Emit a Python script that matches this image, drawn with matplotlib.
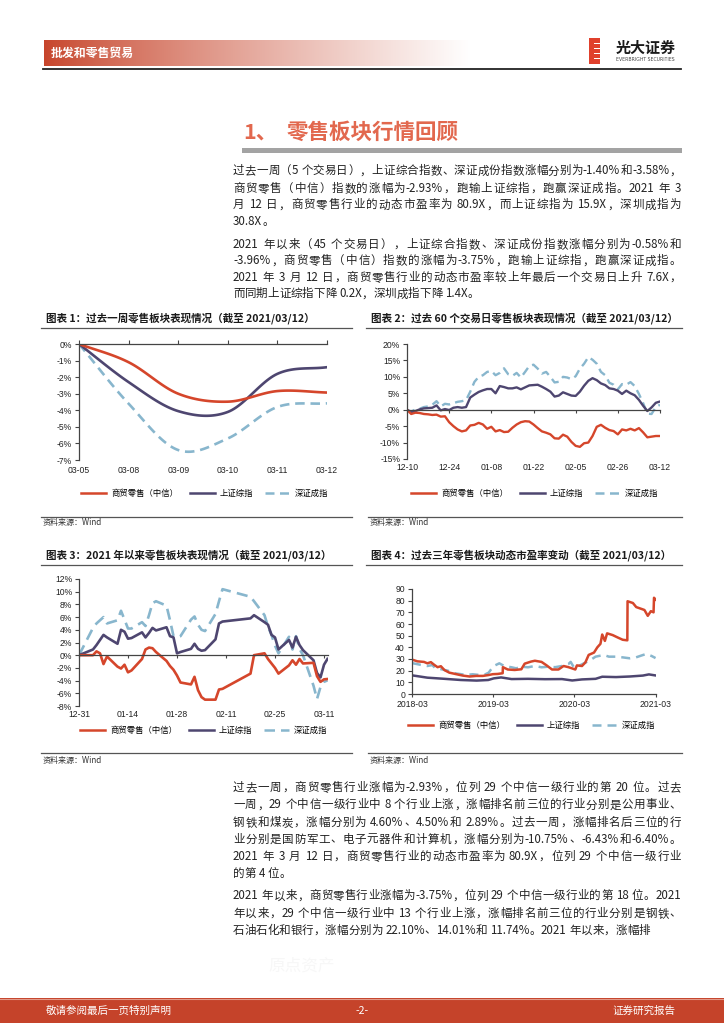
import numpy as np
import pandas as pd
import matplotlib
matplotlib.use('Agg')
import matplotlib.pyplot as plt
from matplotlib.lines import Line2D
from matplotlib.patches import Rectangle

# ---------------- DATA ----------------
c1_labels = ['03-05', '03-08', '03-09', '03-10', '03-11', '03-12']
c1_retail = [0.0, -1.1, -3.0, -3.48, -2.84, -2.93]
c1_sh = [0.0, -2.3, -4.05, -4.1, -1.8, -1.40]
c1_sz = [0.0, -3.6, -6.4, -5.7, -3.8, -3.58]

c2_ticklabels = ['12-10', '12-24', '01-08', '01-22', '02-05', '02-26', '03-12']
c2_retail = [0.0, -1.3, -0.9, -1.0, -1.3, -1.4, -1.6, -1.5, -2.1, -2.0,
             -3.8, -5.0, -6.0, -6.6, -6.3, -4.8, -4.6, -4.0, -4.5, -5.8,
             -5.2, -6.6, -6.2, -6.8, -6.7, -5.5, -4.5, -3.8, -3.5, -3.6,
             -4.5, -5.6, -6.6, -7.0, -7.5, -8.7, -8.8, -7.6, -8.2, -9.8,
             -11.0, -11.3, -10.2, -10.0, -8.0, -5.2, -4.6, -5.5, -6.2, -6.5,
             -7.5, -6.0, -6.3, -5.8, -6.3, -5.6, -6.9, -8.4, -8.2, -8.0, -8.0]
c2_sh = [0.0, -0.8, -0.4, 0.1, 0.4, 0.5, 0.6, 1.3, -0.2, 0.2,
         -0.1, 0.6, 0.8, 0.6, 0.8, 3.7, 4.6, 5.4, 5.9, 6.3,
         6.3, 5.0, 7.2, 6.9, 6.5, 6.5, 6.8, 6.2, 6.8, 7.4,
         7.5, 7.6, 7.0, 6.3, 5.5, 4.0, 4.3, 5.3, 4.8, 4.3,
         4.2, 5.5, 7.3, 8.8, 9.6, 9.0, 8.0, 7.5, 6.5, 6.3,
         5.8, 4.8, 5.8, 5.0, 4.4, 3.0, 1.2, -0.4, 0.7, 2.1, 2.5]
c2_sz = [0.0, -0.6, 0.1, 0.3, 0.8, 1.0, 1.5, 2.6, 1.0, 1.8,
         1.6, 2.0, 2.4, 2.6, 2.9, 5.5, 8.5, 10.0, 10.5, 11.5,
         11.8, 10.5, 11.2, 12.6, 10.8, 10.3, 11.2, 9.8, 11.5, 13.3,
         13.7, 12.5, 11.0, 11.5, 10.0, 8.3, 8.5, 10.0, 9.8, 9.3,
         10.2, 12.5, 14.0, 16.0, 15.2, 14.0, 11.5, 10.5, 8.2, 7.6,
         6.2, 7.8, 7.6, 8.4, 7.2, 4.8, 2.0, -1.2, -1.3, 0.8, 1.5]

c3_dates = ['2020-12-31', '2021-01-04', '2021-01-05', '2021-01-06', '2021-01-07', '2021-01-08',
            '2021-01-11', '2021-01-12', '2021-01-13', '2021-01-14', '2021-01-15',
            '2021-01-18', '2021-01-19', '2021-01-20', '2021-01-21', '2021-01-22',
            '2021-01-25', '2021-01-26', '2021-01-27', '2021-01-28', '2021-01-29',
            '2021-02-01', '2021-02-02', '2021-02-03', '2021-02-04', '2021-02-05',
            '2021-02-08', '2021-02-09', '2021-02-10', '2021-02-18', '2021-02-19',
            '2021-02-22', '2021-02-23', '2021-02-24', '2021-02-25', '2021-02-26',
            '2021-03-01', '2021-03-02', '2021-03-03', '2021-03-04', '2021-03-05',
            '2021-03-08', '2021-03-09', '2021-03-10', '2021-03-11', '2021-03-12']
c3_retail = [0.0, 0.0, 0.6, 0.3, -1.4, -0.2, -1.8, -2.1, -1.5, -2.7, -2.4,
             -0.6, 0.9, 1.2, 1.1, 0.5, -0.9, -1.7, -2.3, -3.2, -4.3,
             -4.6, -3.4, -5.5, -6.6, -7.0, -7.0, -5.4, -5.3, -2.9, 0.0,
             0.3, -0.6, -1.3, -2.0, -2.9, -1.6, -0.8, -1.5, -0.6, -1.3,
             -1.2, -3.3, -4.2, -3.8, -3.75]
c3_sh = [0.0, 0.9, 1.6, 2.4, 3.2, 2.8, 1.8, 4.0, 3.7, 2.6, 2.7,
         3.6, 2.8, 3.5, 4.3, 3.9, 4.4, 3.0, 2.8, 0.3, 0.5,
         1.0, 1.8, 1.0, 0.7, 0.8, 2.5, 5.0, 5.3, 5.8, 6.3,
         5.2, 4.8, 3.2, 2.8, 0.9, 2.4, 1.2, 2.9, 1.6, 0.8,
         -0.8, -2.8, -3.5, -1.5, -0.58]
c3_sz = [0.0, 4.3, 5.0, 5.5, 6.0, 5.0, 5.5, 7.0, 5.6, 4.2, 4.2,
         5.2, 4.6, 6.3, 8.2, 8.5, 7.8, 5.5, 3.0, 2.8, 3.0,
         5.6, 6.1, 4.8, 4.0, 3.8, 6.5, 8.5, 10.4, 9.2, 8.5,
         6.3, 4.5, 3.2, 1.5, 0.3, 2.9, 0.9, 3.0, 1.0, 0.0,
         -4.8, -6.9, -5.0, -4.2, -3.96]
c3_ticks = ['2020-12-31', '2021-01-14', '2021-01-28', '2021-02-11', '2021-02-25', '2021-03-11']
c3_ticklabels = ['12-31', '01-14', '01-28', '02-11', '02-25', '03-11']

c4_retail_dates = ['2018-03-12', '2018-04-05', '2018-05-05', '2018-05-20', '2018-06-05', '2018-06-20',
                   '2018-07-05', '2018-07-20', '2018-08-05', '2018-08-27', '2018-09-27', '2018-10-26',
                   '2018-11-26', '2018-12-26', '2019-01-25', '2019-02-18', '2019-03-11', '2019-04-02',
                   '2019-04-24', '2019-04-25', '2019-05-17', '2019-06-17', '2019-07-17', '2019-08-01',
                   '2019-08-30', '2019-09-16', '2019-10-16', '2019-11-08', '2019-12-02', '2019-12-31',
                   '2020-01-23', '2020-02-14', '2020-03-16', '2020-03-23', '2020-04-15', '2020-04-30',
                   '2020-05-15', '2020-06-08', '2020-06-23', '2020-07-07', '2020-07-15', '2020-07-27',
                   '2020-08-06', '2020-08-31', '2020-09-22', '2020-10-15', '2020-11-05', '2020-11-06',
                   '2020-11-30', '2020-12-15', '2021-01-14', '2021-01-21', '2021-02-05', '2021-02-19',
                   '2021-03-03', '2021-03-05', '2021-03-12']
c4_retail = [29.5, 28.0, 27.5, 26.3, 27.3, 25.0, 23.0, 23.8, 20.5, 18.3, 17.0, 15.8, 15.0, 15.5,
             15.5, 16.2, 17.0, 17.2, 17.8, 23.0, 21.0, 20.6, 21.2, 26.0, 27.8, 28.5, 27.5, 24.5,
             21.0, 21.0, 24.0, 23.0, 21.0, 24.5, 24.0, 27.0, 33.5, 35.5, 40.0, 43.0, 51.0, 45.5,
             52.0, 50.5, 48.5, 46.5, 46.0, 79.5, 78.0, 74.5, 72.5, 72.0, 67.0, 71.0, 70.0, 82.5, 80.9]
c4_sz_dates = ['2018-03-12', '2018-04-20', '2018-05-20', '2018-06-11', '2018-06-26', '2018-07-20',
               '2018-08-20', '2018-09-18', '2018-10-18', '2018-11-09', '2018-12-10', '2019-01-10',
               '2019-02-01', '2019-02-20', '2019-03-01', '2019-03-15', '2019-04-09', '2019-05-01',
               '2019-06-03', '2019-06-24', '2019-07-17', '2019-08-16', '2019-09-16', '2019-10-16',
               '2019-11-15', '2019-12-16', '2020-01-16', '2020-02-14', '2020-02-24', '2020-03-09',
               '2020-03-31', '2020-04-30', '2020-05-22', '2020-06-15', '2020-06-30', '2020-07-23',
               '2020-08-14', '2020-09-15', '2020-10-15', '2020-11-16', '2020-12-14', '2021-01-14',
               '2021-01-29', '2021-02-22', '2021-03-12']
c4_sz = [26.5, 25.0, 24.0, 24.8, 22.0, 21.3, 20.0, 17.8, 17.0, 16.3, 16.9, 16.3, 16.5, 18.3, 20.6,
         24.0, 26.3, 24.0, 22.9, 22.0, 23.4, 22.9, 24.0, 22.9, 23.4, 23.0, 24.0, 25.7, 27.5, 23.0,
         24.0, 26.9, 29.0, 32.0, 32.6, 33.4, 32.0, 32.0, 31.4, 30.6, 31.4, 33.4, 34.3, 32.6, 30.8]
c4_sh_dates = ['2018-03-12', '2018-05-20', '2018-08-06', '2018-10-18', '2018-12-28', '2019-02-18',
               '2019-03-15', '2019-04-17', '2019-06-03', '2019-08-16', '2019-10-31', '2020-01-16',
               '2020-03-02', '2020-04-15', '2020-06-15', '2020-07-15', '2020-09-15', '2020-11-16',
               '2021-01-14', '2021-02-10', '2021-03-12']
c4_sh = [16.0, 14.0, 13.0, 12.0, 11.5, 12.0, 13.4, 14.2, 12.8, 13.0, 12.7, 12.8, 11.6, 12.5,
         13.0, 14.8, 14.5, 15.0, 15.8, 16.8, 15.9]
c4_ticks = ['2018-03-12', '2019-03-12', '2020-03-12', '2021-03-12']
c4_ticklabels = ['2018-03', '2019-03', '2020-03', '2021-03']

series_names = ['商贸零售（中信）', '上证综指', '深证成指']

para1 = ['过去一周（5 个交易日），上证综合指数、深证成份指数涨幅分别为-1.40%和-3.58%，',
         '商贸零售（中信）指数的涨幅为-2.93%，跑输上证综指，跑赢深证成指。2021 年 3',
         '月 12 日，商贸零售行业的动态市盈率为 80.9X，而上证综指为 15.9X，深圳成指为',
         '30.8X。']
para2 = ['2021 年以来（45 个交易日），上证综合指数、深证成份指数涨幅分别为-0.58%和',
         '-3.96%，商贸零售（中信）指数的涨幅为-3.75%，跑输上证综指，跑赢深证成指。',
         '2021 年 3 月 12 日，商贸零售行业的动态市盈率较上年最后一个交易日上升 7.6X，',
         '而同期上证综指下降 0.2X，深圳成指下降 1.4X。']
para3 = ['过去一周，商贸零售行业涨幅为-2.93%，位列 29 个中信一级行业的第 20 位。过去',
         '一周，29 个中信一级行业中 8 个行业上涨，涨幅排名前三位的行业分别是公用事业、',
         '钢铁和煤炭，涨幅分别为 4.60%、4.50%和 2.89%。过去一周，涨幅排名后三位的行',
         '业分别是国防军工、电子元器件和计算机，涨幅分别为-10.75%、-6.43%和-6.40%。',
         '2021 年 3 月 12 日，商贸零售行业的动态市盈率为 80.9X，位列 29 个中信一级行业',
         '的第 4 位。']
para4 = ['2021 年以来，商贸零售行业涨幅为-3.75%，位列 29 个中信一级行业的第 18 位。2021',
         '年以来，29 个中信一级行业中 13 个行业上涨，涨幅排名前三位的行业分别是钢铁、',
         '石油石化和银行，涨幅分别为 22.10%、14.01%和 11.74%。2021 年以来，涨幅排']

# ---------------- SETUP ----------------
W, H = 724, 1024
CJK = ['Noto Sans CJK SC', 'DejaVu Sans']
plt.rcParams['font.family'] = CJK
fig = plt.figure(figsize=(7.24, 10.24), dpi=100)
renderer = fig.canvas.get_renderer()

RED = '#D5462B'
NAVY = '#4E4670'
LBLUE = '#88B6CD'
TXT = '#222222'
TICKF = 'Liberation Sans'


def fx(x):
    return x / W


def fy(y):
    return 1 - y / H


def rect(x0, y0, x1, y1):
    return [fx(x0), fy(y1), (x1 - x0) / W, (y1 - y0) / H]


def hline(x0, x1, y, color='#555555', lw=0.8):
    fig.add_artist(Line2D([fx(x0), fx(x1)], [fy(y), fy(y)], transform=fig.transFigure,
                          color=color, lw=lw))


def box(x0, y0, x1, y1, color):
    fig.add_artist(Rectangle((fx(x0), fy(y1)), (x1 - x0) / W, (y1 - y0) / H,
                             transform=fig.transFigure, facecolor=color, edgecolor='none'))


_cache = {}


def text_w(s, fs):
    key = (s, fs)
    if key not in _cache:
        t = fig.text(0, 0, s, fontsize=fs)
        _cache[key] = t.get_window_extent(renderer).width
        t.remove()
    return _cache[key]


def adv(tok, fs):
    R = '一'
    return text_w(R + tok + R, fs) - text_w(R + R, fs)


def tokenize(s):
    toks, buf = [], ''
    for ch in s:
        if ord(ch) < 128 and ch != ' ':
            buf += ch
        else:
            if buf:
                toks.append(buf)
                buf = ''
            toks.append(ch)
    if buf:
        toks.append(buf)
    return toks


def draw_line(s, x0, x1, y, fs, justify=True, color=TXT):
    toks = tokenize(s)
    ws = [adv(t, fs) for t in toks]
    n = len(toks)
    extra = (x1 - x0 - sum(ws)) / (n - 1) if (justify and n > 1) else 0.0
    x = x0
    base = y + fs * 100 / 72 * 0.38
    for t, w in zip(toks, ws):
        if t != ' ':
            fig.text(fx(x), fy(base), t, fontsize=fs, color=color, ha='left', va='baseline')
        x += w + extra


def draw_para(lines, ys, x0=233, x1=681, fs=8.3):
    for i, (ln, y) in enumerate(zip(lines, ys)):
        draw_line(ln, x0, x1, y, fs, justify=(i < len(lines) - 1))


# ---------------- HEADER ----------------
axh = fig.add_axes(rect(44, 40, 471, 66))
axh.axis('off')
g = np.linspace(0, 1, 400) ** 0.85
c0 = np.array([0.78, 0.27, 0.17])
img = c0[None, None, :] * (1 - g[None, :, None]) + np.ones(3)[None, None, :] * g[None, :, None]
axh.imshow(img, aspect='auto', extent=[0, 1, 0, 1])
fig.text(fx(51), fy(53), '批发和零售贸易', color='white', fontsize=8.6, fontweight='bold', va='center')
hline(43, 681, 68.5, color='#222222', lw=1.3)

# logo
box(589, 38, 600, 64, '#E0402C')
for yy in [43, 48, 53, 58]:
    box(594, yy, 601, yy + 1.3, 'white')
fig.text(fx(616), fy(48), '光大证券', fontsize=10.8, fontweight='bold', color='#1a1a1a', va='center')
fig.text(fx(616), fy(59.5), 'EVERBRIGHT SECURITIES', fontsize=3.3, color='#444444', va='center',
         family='DejaVu Sans')

# ---------------- SECTION TITLE ----------------
fig.text(fx(243), fy(132), '1、', fontsize=15.5, fontweight='bold', color='#E2684E', va='center')
fig.text(fx(287), fy(132), '零售板块行情回顾', fontsize=15.5, fontweight='bold', color='#E2684E',
         va='center')
box(242, 148.3, 682, 152.5, '#A3A3A3')

draw_para(para1, [170, 187.3, 204, 220.5])
draw_para(para2, [243.3, 260, 276.7, 293])
draw_para(para3, [786.7, 804, 821.3, 838.3, 855.7, 873])
draw_para(para4, [895, 912.3, 929.3])

# watermark
fig.text(fx(268), fy(966), '原点资产', fontsize=12, color='#F7F7F7', va='center')


# ---------------- CHART HELPERS ----------------
def chart_title(x, y, s, x1, uy):
    fig.text(fx(x), fy(y), s, fontsize=7.6, fontweight='bold', color='#1a1a1a', va='center')
    hline(x - 5, x1, uy, color='#555555', lw=0.9)


def source(x, x1, ly, ty):
    hline(x - 2, x1, ly, color='#555555', lw=0.9)
    fig.text(fx(x), fy(ty), '资料来源：Wind', fontsize=5.8, color='#333333', va='center')


def legend(cx, cy, dashes):
    hs = [Line2D([], [], color=RED, lw=1.8),
          Line2D([], [], color=NAVY, lw=1.8),
          Line2D([], [], color=LBLUE, lw=1.8, dashes=dashes)]
    fig.legend(hs, series_names, loc='center', bbox_to_anchor=(fx(cx), fy(cy)), ncol=3,
               frameon=False, fontsize=6, handlelength=3.0, handletextpad=0.6,
               columnspacing=1.4, borderpad=0)


def base_style(ax):
    ax.patch.set_alpha(0)
    for s in ['top', 'right', 'bottom', 'left']:
        ax.spines[s].set_color('#444444')
        ax.spines[s].set_linewidth(0.9)
    ax.spines['right'].set_visible(False)
    ax.tick_params(axis='y', direction='out', length=3, width=0.8, color='#444444', pad=2)


def smooth(xs, ys, n=24):
    pts = np.column_stack([xs, ys]).astype(float)
    P = np.vstack([2 * pts[0] - pts[1], pts, 2 * pts[-1] - pts[-2]])
    out = []
    t = np.linspace(0, 1, n, endpoint=False)[:, None]
    for i in range(1, len(P) - 2):
        p0, p1, p2, p3 = P[i - 1], P[i], P[i + 1], P[i + 2]
        seg = 0.5 * ((2 * p1) + (-p0 + p2) * t + (2 * p0 - 5 * p1 + 4 * p2 - p3) * t ** 2
                     + (-p0 + 3 * p1 - 3 * p2 + p3) * t ** 3)
        out.append(seg)
    out.append(pts[-1][None, :])
    return np.vstack(out)


def pct_labels(ticks):
    return ['%d%%' % v for v in ticks]


# ---------------- CHART 1 ----------------
chart_title(46, 318, '图表 1：过去一周零售板块表现情况（截至 2021/03/12）', 352, 328)
ax1 = fig.add_axes(rect(79, 344, 327, 460))
base_style(ax1)
x1 = np.arange(len(c1_labels))
for data, col, ds in [(c1_sz, LBLUE, (3.6, 2.2)), (c1_sh, NAVY, None), (c1_retail, RED, None)]:
    s = smooth(x1, data)
    if ds:
        ax1.plot(s[:, 0], s[:, 1], color=col, lw=1.9, dashes=ds)
    else:
        ax1.plot(s[:, 0], s[:, 1], color=col, lw=1.9)
ax1.set_xlim(0, 5)
ax1.set_ylim(-7, 0)
ax1.spines['bottom'].set_visible(False)
ax1.spines['top'].set_visible(True)
yt = list(range(-7, 1))
ax1.set_yticks(yt)
ax1.set_yticklabels(pct_labels(yt), fontfamily=TICKF, fontsize=6.2, color=TXT)
ax1.set_xticks(x1)
ax1.set_xticklabels(c1_labels, fontfamily=TICKF, fontsize=6.2, color=TXT)
ax1.tick_params(axis='x', top=True, bottom=False, labeltop=False, labelbottom=True,
                direction='out', length=3, width=0.8, color='#444444', pad=1)
legend(205, 493, (3.6, 2.2))
source(43, 352, 517, 523)

# ---------------- CHART 2 ----------------
chart_title(371, 318, '图表 2：过去 60 个交易日零售板块表现情况（截至 2021/03/12）', 682, 328)
ax2 = fig.add_axes(rect(407, 344, 660, 459))
base_style(ax2)
x2 = np.arange(len(c2_retail))
ax2.plot(x2, c2_sz, color=LBLUE, lw=1.7, dashes=(3.6, 2.2))
ax2.plot(x2, c2_sh, color=NAVY, lw=1.7)
ax2.plot(x2, c2_retail, color=RED, lw=1.7)
ax2.set_xlim(0, 60)
ax2.set_ylim(-15, 20)
ax2.spines['top'].set_visible(False)
ax2.spines['bottom'].set_position(('data', 0))
yt = list(range(-15, 21, 5))
ax2.set_yticks(yt)
ax2.set_yticklabels(pct_labels(yt), fontfamily=TICKF, fontsize=6.2, color=TXT)
xt2 = list(range(0, 61, 10))
ax2.set_xticks(xt2)
ax2.tick_params(axis='x', direction='out', length=2.5, width=0.8, color='#444444', labelbottom=False)
sec2 = ax2.secondary_xaxis('bottom')
sec2.set_xticks(xt2, labels=c2_ticklabels, fontfamily=TICKF, fontsize=6.2, color=TXT)
sec2.tick_params(length=0, pad=3)
for s in sec2.spines.values():
    s.set_visible(False)
legend(535, 493, (3.6, 2.2))
source(370, 682, 517, 523)

# ---------------- CHART 3 ----------------
chart_title(46, 555, '图表 3：2021 年以来零售板块表现情况（截至 2021/03/12）', 352, 565)
ax3 = fig.add_axes(rect(79, 579, 327.5, 706))
base_style(ax3)
d3 = pd.to_datetime(c3_dates)
ax3.plot(d3, c3_sz, color=LBLUE, lw=1.9, dashes=(4.2, 2.4))
ax3.plot(d3, c3_sh, color=NAVY, lw=1.9)
ax3.plot(d3, c3_retail, color=RED, lw=1.9)
ax3.set_xlim(pd.Timestamp('2020-12-31'), pd.Timestamp('2021-03-12'))
ax3.set_ylim(-8, 12)
ax3.spines['top'].set_visible(False)
ax3.spines['bottom'].set_position(('data', 0))
yt = list(range(-8, 13, 2))
ax3.set_yticks(yt)
ax3.set_yticklabels(pct_labels(yt), fontfamily=TICKF, fontsize=6.2, color=TXT)
t3 = pd.to_datetime(c3_ticks)
ax3.set_xticks(t3)
ax3.tick_params(axis='x', direction='out', length=2.5, width=0.8, color='#444444', labelbottom=False)
sec3 = ax3.secondary_xaxis('bottom')
sec3.set_xticks(t3, labels=c3_ticklabels, fontfamily=TICKF, fontsize=6.2, color=TXT)
sec3.tick_params(length=0, pad=3)
for s in sec3.spines.values():
    s.set_visible(False)
legend(204, 730, (4.2, 2.4))
source(43, 352, 753, 760)

# ---------------- CHART 4 ----------------
chart_title(371, 555, '图表 4：过去三年零售板块动态市盈率变动（截至 2021/03/12）', 682, 565)
ax4 = fig.add_axes(rect(412, 589, 656, 694))
base_style(ax4)
ax4.plot(pd.to_datetime(c4_sz_dates), c4_sz, color=LBLUE, lw=1.8, dashes=(3.6, 2.4))
ax4.plot(pd.to_datetime(c4_sh_dates), c4_sh, color=NAVY, lw=1.8)
ax4.plot(pd.to_datetime(c4_retail_dates), c4_retail, color=RED, lw=1.8)
ax4.set_xlim(pd.Timestamp('2018-03-12'), pd.Timestamp('2021-03-14'))
ax4.set_ylim(0, 90)
ax4.spines['top'].set_visible(False)
yt = list(range(0, 91, 10))
ax4.set_yticks(yt)
ax4.set_yticklabels([str(v) for v in yt], fontfamily=TICKF, fontsize=6.2, color=TXT)
t4 = pd.to_datetime(c4_ticks)
ax4.set_xticks(t4)
ax4.set_xticklabels(c4_ticklabels, fontfamily=TICKF, fontsize=6.2, color=TXT)
ax4.tick_params(axis='x', direction='out', length=2.5, width=0.8, color='#444444', pad=2)
legend(532, 725, (3.6, 2.4))
source(370, 682, 753, 760)

# ---------------- FOOTER ----------------
box(0, 998, 724, 1023, '#C5432A')
hline(0, 724, 998.5, color='#E39A8A', lw=0.8)
fig.text(fx(46), fy(1011), '敬请参阅最后一页特别声明', fontsize=7.6, color='white', va='center')
fig.text(fx(362), fy(1011), '-2-', fontsize=7.6, color='white', va='center', ha='center')
fig.text(fx(675), fy(1011), '证券研究报告', fontsize=7.6, color='white', va='center', ha='right')

fig.savefig('out.png', dpi=100)
